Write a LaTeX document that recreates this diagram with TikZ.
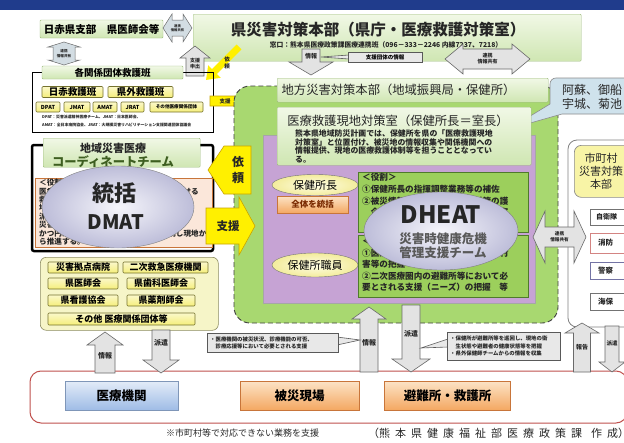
\documentclass[tikz,border=0pt]{standalone}
\usepackage{fontspec}
\setmainfont{Noto Sans CJK JP}
\usetikzlibrary{shapes.geometric,arrows.meta}
\definecolor{navy}{HTML}{203C8C}
\definecolor{lgt}{HTML}{F1F8E6}
\definecolor{lgbt}{HTML}{CFE6B2}
\definecolor{lgb}{HTML}{9DBB7D}
\definecolor{lime}{HTML}{A8D870}
\definecolor{purp}{HTML}{C6A3D4}
\definecolor{roleg}{HTML}{9CCF5C}
\definecolor{rolegb}{HTML}{4F7A2C}
\definecolor{ylw}{HTML}{FFF000}
\definecolor{ylwb}{HTML}{C9A400}
\definecolor{lyel}{HTML}{F6F5C8}
\definecolor{lyelb}{HTML}{8C8C60}
\definecolor{itemy}{HTML}{F5EE7A}
\definecolor{itemyb}{HTML}{75722E}
\definecolor{arrg}{HTML}{E3E3E3}
\definecolor{arrgb}{HTML}{6A6A6A}
\definecolor{barr}{HTML}{D3DDE3}
\definecolor{redb}{HTML}{C0504D}
\definecolor{bluet}{HTML}{E3ECF8}
\definecolor{blueb}{HTML}{9FBCE6}
\definecolor{oranget}{HTML}{FCE3C6}
\definecolor{orangeb}{HTML}{F4A862}
\definecolor{orangedr}{HTML}{C8753A}
\definecolor{peach}{HTML}{FBE7DA}
\definecolor{lblue}{HTML}{CFE2EC}
\definecolor{brn}{HTML}{7A2A00}
\definecolor{dgreen}{HTML}{3D5E20}
\definecolor{ellin}{HTML}{F6F6FB}
\definecolor{ellout}{HTML}{BDBDD9}
\definecolor{yelin}{HTML}{FEFDE6}
\definecolor{yelout}{HTML}{F3EC9C}
\definecolor{shyel}{HTML}{F8F4A6}
% vertical up arrow: style, cx, ytop(tip), ybot, half body, half head, head length
\newcommand\UpArr[7]{\filldraw[#1] (#2-#5,#4) -- (#2-#5,#3+#7) -- (#2-#6,#3+#7) -- (#2,#3) -- (#2+#6,#3+#7) -- (#2+#5,#3+#7) -- (#2+#5,#4) -- cycle;}
% vertical down arrow: style, cx, ytop, ybot(tip), half body, half head, head length
\newcommand\DnArr[7]{\filldraw[#1] (#2-#5,#3) -- (#2-#5,#4-#7) -- (#2-#6,#4-#7) -- (#2,#4) -- (#2+#6,#4-#7) -- (#2+#5,#4-#7) -- (#2+#5,#3) -- cycle;}
% right arrow: style, xl, xr(tip), cy, half body, half head, head length
\newcommand\RArr[7]{\filldraw[#1] (#2,#4-#5) -- (#3-#7,#4-#5) -- (#3-#7,#4-#6) -- (#3,#4) -- (#3-#7,#4+#6) -- (#3-#7,#4+#5) -- (#2,#4+#5) -- cycle;}
% horizontal double arrow: style, xl, xr, cy, half body, half head, head length
\newcommand\HDArr[7]{\filldraw[#1] (#2,#4) -- (#2+#7,#4-#6) -- (#2+#7,#4-#5) -- (#3-#7,#4-#5) -- (#3-#7,#4-#6) -- (#3,#4) -- (#3-#7,#4+#6) -- (#3-#7,#4+#5) -- (#2+#7,#4+#5) -- (#2+#7,#4+#6) -- cycle;}
% vertical double arrow: style, cx, yt, yb, half body, half head, head length
\newcommand\VDArr[7]{\filldraw[#1] (#2,#3) -- (#2+#6,#3+#7) -- (#2+#5,#3+#7) -- (#2+#5,#4-#7) -- (#2+#6,#4-#7) -- (#2,#4) -- (#2-#6,#4-#7) -- (#2-#5,#4-#7) -- (#2-#5,#3+#7) -- (#2-#6,#3+#7) -- cycle;}
\tikzset{
  txt/.style={inner sep=0pt, align=center, text=black!85},
  fs/.style 2 args={font=\fontsize{#1}{#2}\selectfont},
  bfs/.style 2 args={font=\bfseries\fontsize{#1}{#2}\selectfont},
  gbox/.style={draw=lgb, top color=lgt, bottom color=lgbt, inner sep=0pt, rounded corners=1pt},
  garrow/.style={fill=arrg, draw=arrgb, line width=0.6pt},
  barrow/.style={fill=barr, draw=arrgb, line width=0.5pt},
  yarrow/.style={fill=ylw, draw=ylwb, line width=0.6pt},
  ybtn/.style={draw=itemyb, top color=itemy!40, bottom color=itemy, inner sep=0pt, rounded corners=1pt, line width=0.6pt},
  rbox/.style={draw=rolegb, fill=roleg, inner sep=0pt, line width=0.8pt},
  yell/.style={ellipse, draw=black!55, inner color=yelin, outer color=yelout, inner sep=0pt},
  bigell/.style={ellipse, draw=black!50, inner color=ellin, outer color=ellout, inner sep=0pt},
  cbox/.style={draw=black!65, fill=black!9, inner sep=0pt, line width=0.6pt},
  wbox/.style={fill=white, inner sep=0pt, line width=0.7pt},
  botbox/.style={inner sep=0pt, line width=0.6pt},
}
\begin{document}
\begin{tikzpicture}[x=1pt,y=-1pt]
\useasboundingbox (0,0) rectangle (624,442);
\fill[white] (0,0) rectangle (624,442);
\fill[navy] (0,0) rectangle (624,10);

% ---- top-left ----
\node[gbox, minimum width=123, minimum height=18, bfs={10.5}{12}] (nisseki) at (101.5,29) {日赤県支部　県医師会等};
\VDArr{barrow}{64}{42}{65}{11}{16}{5}
\node[txt, bfs={3.6}{4.4}] (rk1) at (64,53.5) {連携\\情報共有};
\HDArr{barrow}{163}{192}{28}{8}{14}{9}
\node[txt, bfs={3.3}{4}] (rk2) at (177.5,28) {連携\\情報共有};

% ---- prefectural HQ ----
\node[gbox, minimum width=388, minimum height=47, anchor=north west] (ken) at (193,14) {};
\node[txt, bfs={15.5}{17}] (kentitle) at (378,30) {県災害対策本部（県庁・医療救護対策室）};
\node[txt, bfs={6.8}{8}] (kensub) at (386,45) {窓口：熊本県医療政策課医療連携班（096－333－2246 内線7237、7218）};

\UpArr{garrow}{195}{46}{76}{9}{15}{12}
\node[txt, bfs={5}{6}] (shinde) at (195,64) {支援\\申出};
\draw[draw=ylw, line width=7pt, -{Triangle[length=12pt,width=17pt]}] (239,47) -- (206,80);
\node[txt, bfs={5.5}{6.5}] (irai1) at (227,63) {依\\頼};

% ---- left group frame ----
\draw[black, line width=0.8pt] (32,72) rectangle (213,132);
\node[gbox, minimum width=141, minimum height=13, bfs={9.5}{11}] (kakukankei) at (112.5,72.5) {各関係団体救護班};
\node[ybtn, minimum width=61, minimum height=11, bfs={9.5}{11}] (nisseki2) at (72.5,92) {日赤救護班};
\node[ybtn, minimum width=65, minimum height=11, bfs={9.5}{11}] (kengai) at (140.5,92) {県外救護班};
\node[ybtn, minimum width=24, minimum height=10, bfs={5.5}{6}] (dpat) at (48,107) {DPAT};
\node[ybtn, minimum width=26, minimum height=10, bfs={5.5}{6}] (jmat) at (77,107) {JMAT};
\node[ybtn, minimum width=24, minimum height=10, bfs={5.5}{6}] (amat) at (105,107) {AMAT};
\node[ybtn, minimum width=23, minimum height=10, bfs={5.5}{6}] (jrat) at (132.5,107) {JRAT};
\node[ybtn, minimum width=53, minimum height=10, bfs={4.6}{5}] (sonota1) at (176.5,107) {その他医療関係団体};
\node[txt, anchor=west, bfs={3.9}{4.5}] (note1) at (42,117.5) {DPAT：災害派遣精神医療チーム、JMAT：日本医師会、};
\node[txt, anchor=west, bfs={3.9}{4.5}] (note2) at (42,124.5) {AMAT：全日本病院協会、JRAT：大規模災害リハビリテーション支援関連団体協議会};

\RArr{yarrow}{210}{248}{101}{5}{7.5}{7}
\node[txt, bfs={5.5}{6}] (shien1) at (225,101) {支援};

% ---- info arrow / callout ----
\DnArr{garrow}{311}{49}{75}{9}{22}{13}
\node[txt, bfs={6}{7}] (joho1) at (311,56) {情報};
\filldraw[fill=black!9, draw=black!65, line width=0.6pt] (349,55) -- (321,57) -- (349,59) -- cycle;
\node[cbox, minimum width=74, minimum height=10, bfs={5.5}{6}] (shiendantai) at (385,57) {支援団体の情報};
\HDArr{garrow}{445}{530}{59}{10}{15}{18}
\node[txt, bfs={5}{6}] (rk3) at (487.5,59) {連携\\情報共有};

% ---- regional area ----
\filldraw[fill=lime, draw=black!75, dash pattern=on 5pt off 3pt, line width=0.9pt, rounded corners=16pt] (234,86) rectangle (558,323);
\node[gbox, minimum width=271, minimum height=24, anchor=north west] (chiho) at (277,78) {};
\node[txt, fs={12.3}{14}] (chihot) at (398.5,90) {地方災害対策本部（地域振興局・保健所）};

\filldraw[fill=lblue, draw=black!45, line width=0.6pt] (640,114) -- (640,78) -- (556,78) to[out=180,in=90] (550,84) -- (550,104) -- (509,129) -- (562,114) -- cycle;
\node[txt, anchor=west, fs={12}{14}] (aso1) at (562,90) {阿蘇、御船};
\node[txt, anchor=west, fs={12}{14}] (aso2) at (562,104) {宇城、菊池};

\filldraw[fill=purp, draw=black!35, line width=0.5pt] (263,135) rectangle (535,303);
\node[gbox, minimum width=254, minimum height=58, anchor=north west] (iryo) at (277,107) {};
\node[txt, fs={12.3}{14}] (iryot) at (398,121) {医療救護現地対策室（保健所長＝室長）};
\node[txt, anchor=north west, align=left, bfs={7.9}{8.4}] (iryob) at (295,130) {熊本県地域防災計画では、保健所を県の「医療救護現地\\対策室」と位置付け、被災地の情報収集や関係機関への\\情報提供、現地の医療救護体制等を担うこととなってい\\る。};

\node[yell, minimum width=86, minimum height=21, fs={11}{12}] (shocho) at (315,185) {保健所長};
\node[botbox, draw=orangedr, top color=oranget, bottom color=orangeb, minimum width=71, minimum height=17, text=brn, bfs={8.5}{9}] (zentai) at (312.5,204.5) {全体を統括};
\node[yell, minimum width=86, minimum height=24, fs={11}{12}] (shokuin) at (315,265) {保健所職員};

\node[rbox, minimum width=170, minimum height=60, anchor=north west] (yakuwari) at (358,172) {};
\node[txt, anchor=north west, align=left, bfs={8.6}{11.8}] (yakuwarit) at (362,173) {＜役割＞\\①保健所長の指揮調整業務等の補佐\\②被災情報等の収集・分析、対策の護\\　企画立案、関係機関との調整等の室};
\node[rbox, minimum width=170, minimum height=62, anchor=north west] (gyomu) at (358,235) {};
\node[txt, anchor=north west, align=left, bfs={8.6}{11.6}] (gyomut) at (362,237) {＜業務＞\\①医療機関の被災状況の把握、市町村\\害等の把握\\②二次医療圏内の避難所等において必\\要とされる支援（ニーズ）の把握　等};

\node[bigell, minimum width=154, minimum height=78] (dheat) at (441,231) {};
\node[txt, text=black!85, bfs={24}{26}] (dheatt) at (441,215) {DHEAT};
\node[txt, text=black!65, bfs={12.5}{13.5}] (dheats) at (443,245.5) {災害時健康危機\\管理支援チーム};

% ---- coordination team ----
\draw[black, line width=2.5pt, rounded corners=2pt] (32,145) rectangle (213,251);
\node[gbox, minimum width=157, minimum height=29, anchor=north west] (chiiki) at (43,138) {};
\node[txt, bfs={11}{12}] (chiiki1) at (113,148) {地域災害医療};
\node[txt, text=dgreen, bfs={12.3}{13}] (chiiki2) at (113,162) {コーディネートチーム};
\node[draw=orangedr, fill=peach, inner sep=0pt, minimum width=177, minimum height=69, anchor=north west] (tokin) at (35,178) {};
\node[txt, anchor=north west, align=left, bfs={7.6}{8.4}] (tokint) at (39,179) {＜役割＞\\医療救護活動の総合調整、二次医療圏における\\救護班等の受入れ・配置の調整等\\地域の医療ニーズを把握し、救護班等の\\派遣要請や配置の調整を行う\\災害急性期から亜急性期にかけて、医療\\かつ円滑な医療救護活動を保健所と連携し現地か\\ら推進する。};
\node[bigell, minimum width=152, minimum height=82] (dmat) at (118,207) {};
\node[txt, bfs={22}{24}] (dmat1) at (114,193) {統括};
\node[txt, bfs={20}{22}] (dmat2) at (116,222) {DMAT};

\filldraw[yarrow] (208,170) -- (224,146) -- (251,146) -- (251,194) -- (224,194) -- cycle;
\node[txt, bfs={12}{16}] (irai2) at (238,170) {依\\頼};
\RArr{yarrow}{206}{255}{226}{18}{29}{16}
\node[txt, bfs={11.5}{12}] (shien2) at (228,226) {支援};

% ---- medical institutions group ----
\node[draw=lyelb, fill=lyel, rounded corners=6pt, minimum width=178, minimum height=73, anchor=north west, inner sep=0pt, line width=0.6pt] (kikan) at (40,257) {};
\node[ybtn, minimum width=70, minimum height=11, bfs={9}{10}] (k1) at (83,267.5) {災害拠点病院};
\node[ybtn, minimum width=85, minimum height=11, bfs={9}{10}] (k2) at (165.5,267.5) {二次救急医療機関};
\node[ybtn, minimum width=70, minimum height=11, bfs={9}{10}] (k3) at (83,283.5) {県医師会};
\node[ybtn, minimum width=68, minimum height=11, bfs={9}{10}] (k4) at (161,283.5) {県歯科医師会};
\node[ybtn, minimum width=70, minimum height=11, bfs={9}{10}] (k5) at (83,300.5) {県看護協会};
\node[ybtn, minimum width=68, minimum height=11, bfs={9}{10}] (k6) at (161,300.5) {県薬剤師会};
\node[ybtn, minimum width=147, minimum height=12, bfs={9}{10}] (k7) at (121.5,319) {その他 医療関係団体等};

% ---- right panel ----
\draw[black!50, line width=0.8pt, rounded corners=9pt] (650,140) -- (568,140) -- (568,327) -- (650,327);
\node[draw=black!45, fill=shyel, rounded corners=7pt, inner sep=0pt, minimum width=76, minimum height=52, anchor=north west, line width=0.7pt] (shichoson) at (574,145) {};
\node[txt, fs={11}{13}] (shichosont) at (601,171) {市町村\\災害対策\\本部};
\node[wbox, draw=black!55, minimum width=60, minimum height=16, anchor=north west] (jieitai) at (590,209) {};
\node[txt, anchor=west, bfs={7}{8}] (jieitait) at (596,217) {自衛隊};
\node[wbox, draw=redb!70, minimum width=60, minimum height=20, anchor=north west] (shobo) at (590,233) {};
\node[txt, anchor=west, bfs={7.5}{8}] (shobot) at (598,243) {消防};
\node[wbox, draw=blue!35!black!55, minimum width=60, minimum height=17, anchor=north west] (keisatsu) at (590,262) {};
\node[txt, anchor=west, bfs={7.5}{8}] (keisatsut) at (598,270.5) {警察};
\node[wbox, draw=black!55, minimum width=60, minimum height=17, anchor=north west] (kaiho) at (590,293) {};
\node[txt, anchor=west, bfs={7.5}{8}] (kaihot) at (598,301.5) {海保};
\HDArr{garrow}{533}{586}{237}{10}{26}{12}
\node[txt, bfs={4.6}{5.6}] (rk4) at (559.5,237) {連携\\情報共有};

% ---- bottom ----
\draw[redb, line width=1pt, fill=white, rounded corners=11pt] (30,371) rectangle (627,423);
\node[botbox, draw=blueb!80!black, top color=bluet, bottom color=blueb, minimum width=113, minimum height=29, bfs={12.5}{13}] (iryokikan) at (121.5,395.5) {医療機関};
\node[botbox, draw=orangedr, top color=oranget, bottom color=orangeb, minimum width=119, minimum height=29, bfs={12.5}{13}] (hisai) at (299.5,395.5) {被災現場};
\node[botbox, draw=orangedr, top color=oranget, bottom color=orangeb, minimum width=126, minimum height=29, bfs={12.5}{13}] (hinan) at (447.5,395.5) {避難所・救護所};

\UpArr{garrow}{105}{332}{373}{10}{18}{13}
\node[txt, bfs={7}{8}] (joho2) at (105,356) {情報};
\DnArr{garrow}{161}{330}{373}{9}{18}{13}
\node[txt, bfs={7}{8}] (haken2) at (161,343) {派遣};
\UpArr{garrow}{369}{307}{372}{9}{17}{12}
\node[txt, bfs={7}{8}] (joho3) at (369,343) {情報};
\DnArr{garrow}{411}{305}{372}{9}{19}{13}
\node[txt, bfs={7}{8}] (haken3) at (411,334) {派遣};
\UpArr{garrow}{582}{323}{372}{8.5}{17}{10}
\node[txt, bfs={6}{7}] (hokoku) at (582,347) {報告};
\DnArr{garrow}{612}{326}{372}{7}{13}{10}
\node[txt, bfs={5.5}{6}] (haken4) at (612,343) {派遣};

\filldraw[fill=black!9, draw=black!65, line width=0.6pt] (337,337) -- (360,340) -- (337,345) -- cycle;
\node[cbox, minimum width=131, minimum height=19, anchor=north west] (cl1) at (207,333) {};
\node[txt, anchor=west, align=left, bfs={5.4}{7}] (cl1t) at (210,342.5) {・医療機関の被災状況、診療機能の可否、\\　診療応援等において必要とされる支援};
\filldraw[fill=black!9, draw=black!65, line width=0.6pt] (448,339) -- (421,348) -- (448,347) -- cycle;
\node[cbox, minimum width=113, minimum height=28, anchor=north west] (cl2) at (447,332) {};
\node[txt, anchor=west, align=left, bfs={5.4}{7.5}] (cl2t) at (450,346) {・保健所が避難所等を巡回し、現地の衛\\　生状態や避難者の健康状態等を把握\\・県外保健師チームからの情報を収集};

\node[txt, anchor=west, fs={9}{10}] (foot1) at (166,433) {※市町村等で対応できない業務を支援};
\node[txt, anchor=west, fs={11}{12}] (foot2) at (368,433) {（熊\hspace{5pt}本\hspace{5pt}県\hspace{5pt}健\hspace{5pt}康\hspace{5pt}福\hspace{5pt}祉\hspace{5pt}部\hspace{5pt}医\hspace{5pt}療\hspace{5pt}政\hspace{5pt}策\hspace{5pt}課\hspace{9pt}作\hspace{5pt}成）};
\end{tikzpicture}
\end{document}
